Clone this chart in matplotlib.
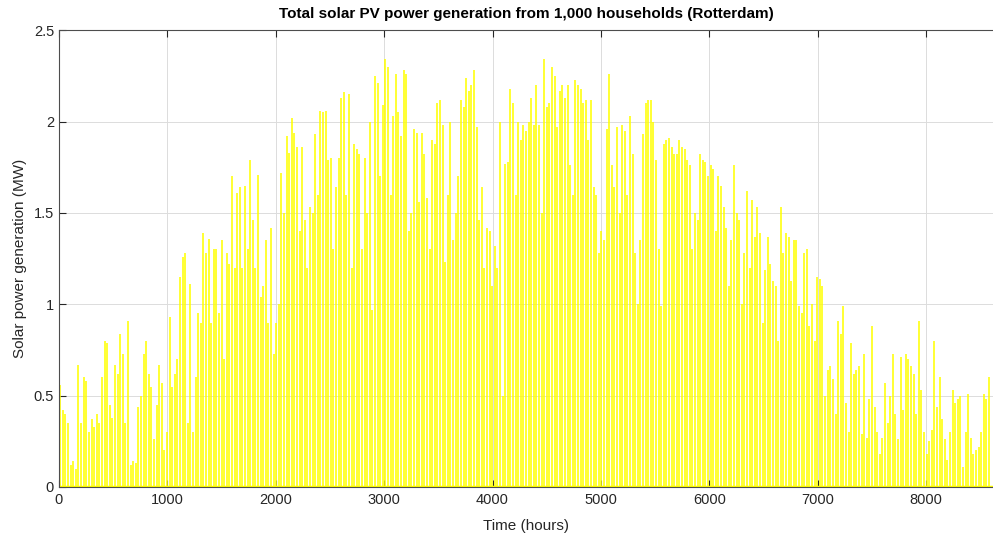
#!/usr/bin/python3

import numpy as np
import matplotlib
matplotlib.use('Agg')
import matplotlib.pyplot as plt

## Data: daily peak of total PV output (MW) ##
daily_peak = [
    0.56, 0.42, 0.40, 0.35, 0.12, 0.14, 0.10, 0.67, 0.35, 0.60,
    0.58, 0.30, 0.37, 0.33, 0.40, 0.35, 0.60, 0.80, 0.79, 0.45,
    0.38, 0.67, 0.62, 0.84, 0.73, 0.35, 0.91, 0.12, 0.14, 0.13,
    0.44, 0.50, 0.73, 0.80, 0.62, 0.55, 0.26, 0.45, 0.67, 0.57,
    0.20, 0.30, 0.93, 0.55, 0.62, 0.70, 1.15, 1.26, 1.28, 0.35,
    1.11, 0.30, 0.60, 0.95, 0.90, 1.39, 1.28, 1.36, 0.90, 1.30,
    1.30, 0.95, 1.35, 0.70, 1.28, 1.22, 1.70, 1.20, 1.61, 1.64,
    1.20, 1.65, 1.30, 1.79, 1.46, 1.20, 1.71, 1.04, 1.10, 1.35,
    0.90, 1.42, 0.73, 0.90, 1.00, 1.72, 1.50, 1.92, 1.83, 2.02,
    1.94, 1.86, 1.40, 1.86, 1.46, 1.20, 1.53, 1.50, 1.93, 1.60,
    2.06, 2.05, 2.06, 1.79, 1.80, 1.30, 1.64, 1.80, 2.13, 2.16,
    1.60, 2.15, 1.20, 1.88, 1.85, 1.82, 1.30, 1.80, 1.50, 2.00,
    0.97, 2.25, 2.21, 1.70, 2.09, 2.34, 2.30, 1.60, 2.03, 2.26,
    2.05, 1.92, 2.28, 2.26, 1.40, 1.50, 1.96, 1.94, 1.56, 1.94,
    1.82, 1.58, 1.30, 1.90, 1.88, 2.10, 2.12, 1.98, 1.23, 1.60,
    2.00, 1.35, 1.50, 1.70, 2.12, 2.08, 2.24, 2.17, 2.20, 2.28,
    1.97, 1.46, 1.64, 1.20, 1.42, 1.40, 1.10, 1.32, 1.20, 2.00,
    0.50, 1.77, 1.78, 2.18, 2.10, 1.60, 2.00, 1.90, 1.98, 1.95,
    2.00, 2.13, 1.98, 2.20, 1.98, 1.50, 2.34, 2.08, 2.10, 2.30,
    2.25, 1.97, 2.17, 2.20, 2.13, 2.20, 1.76, 1.60, 2.23, 2.20,
    2.18, 2.10, 2.12, 1.90, 2.12, 1.64, 1.60, 1.28, 1.40, 1.35,
    1.96, 2.26, 1.76, 1.64, 1.97, 1.50, 1.98, 1.95, 1.60, 2.03,
    1.82, 1.28, 1.00, 1.35, 1.93, 2.10, 2.12, 2.12, 2.00, 1.79,
    1.30, 0.99, 1.88, 1.90, 1.91, 1.86, 1.82, 1.82, 1.90, 1.86,
    1.85, 1.79, 1.76, 1.30, 1.50, 1.46, 1.82, 1.79, 1.78, 1.70,
    1.76, 1.74, 1.40, 1.70, 1.65, 1.53, 1.42, 1.10, 1.35, 1.76,
    1.50, 1.46, 1.00, 1.28, 1.62, 1.20, 1.57, 1.37, 1.53, 1.39,
    0.90, 1.19, 1.37, 1.22, 1.13, 1.10, 0.80, 1.53, 1.28, 1.39,
    1.37, 1.13, 1.35, 1.35, 0.99, 0.95, 1.28, 1.30, 0.88, 1.00,
    0.80, 1.15, 1.14, 1.10, 0.50, 0.64, 0.66, 0.59, 0.40, 0.91,
    0.84, 0.99, 0.46, 0.30, 0.79, 0.62, 0.64, 0.66, 0.29, 0.73,
    0.27, 0.48, 0.88, 0.44, 0.30, 0.18, 0.27, 0.57, 0.35, 0.50,
    0.73, 0.40, 0.26, 0.71, 0.42, 0.73, 0.70, 0.66, 0.62, 0.40,
    0.91, 0.53, 0.30, 0.18, 0.25, 0.31, 0.80, 0.44, 0.60, 0.37,
    0.26, 0.15, 0.30, 0.53, 0.46, 0.48, 0.50, 0.11, 0.30, 0.51,
    0.27, 0.18, 0.20, 0.22, 0.30, 0.51, 0.48, 0.60,
]

x_ticks = [0, 1000, 2000, 3000, 4000, 5000, 6000, 7000, 8000]
y_ticks = [0, 0.5, 1, 1.5, 2, 2.5]
y_tick_labels = ['0', '0.5', '1', '1.5', '2', '2.5']

title = 'Total solar PV power generation from 1,000 households (Rotterdam)'

plt.rcParams['font.family'] = ['Liberation Sans', 'DejaVu Sans']


def graph(peaks):
    peaks = np.array(peaks)
    # one spike per day, placed at noon
    hours = np.arange(len(peaks)) * 24 + 12

    fig = plt.figure(figsize=(9.93, 5.38), dpi=100)
    ax = fig.add_axes([0.0594, 0.0948, 0.9406, 0.849])

    ax.vlines(hours, 0, peaks, color='#ffff00', lw=1.25, alpha=0.9, zorder=2)
    # night-time zero line, as in the hourly trace
    ax.axhline(0, color='#ffff00', lw=2.5, zorder=2)

    ax.set_xlim(0, 8617)
    ax.set_ylim(0, 2.5)
    ax.set_xticks(x_ticks)
    ax.set_yticks(y_ticks)
    ax.set_yticklabels(y_tick_labels)

    ax.grid(True, color='#dcdcdc', lw=0.7, zorder=0)
    ax.set_axisbelow(True)
    ax.tick_params(direction='in', length=5, width=0.8, colors='#262626',
                   labelsize=10.5, top=True, right=False)
    ax.tick_params(axis='x', pad=4)
    for side in ('left', 'top', 'bottom'):
        ax.spines[side].set_color('#4d4d4d')
        ax.spines[side].set_linewidth(0.8)
    ax.spines['right'].set_visible(False)

    ax.set_title(title, fontsize=11, fontweight='bold', pad=9)
    ax.set_xlabel('Time (hours)', fontsize=11, color='#262626', labelpad=9)
    ax.set_ylabel('Solar power generation (MW)', fontsize=11, color='#262626', labelpad=5)

    fig.savefig('out.png', dpi=100)
## END Function ##


if __name__ == "__main__":
    graph(daily_peak)
